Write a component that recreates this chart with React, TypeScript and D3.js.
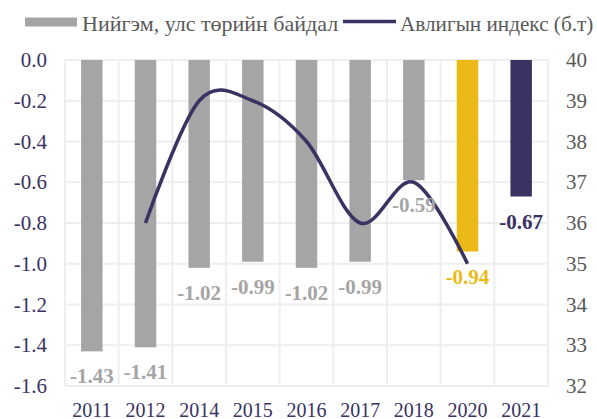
import React from "react";
import * as d3 from "d3";

const years = ["2011", "2012", "2014", "2015", "2016", "2017", "2018", "2020", "2021"];
const socialValues = [-1.43, -1.41, -1.02, -0.99, -1.02, -0.99, -0.59, -0.94, -0.67];
const cpiValues: (number | null)[] = [null, 36, 39, 39, 38, 36, 37, 35, null];
const leftTicks = [0, -0.2, -0.4, -0.6, -0.8, -1.0, -1.2, -1.4, -1.6];
const rightTicks = [40, 39, 38, 37, 36, 35, 34, 33, 32];
const legendLabels = ["Нийгэм, улс төрийн байдал", "Авлигын индекс (б.т)"];

const W = 597;
const H = 419;
const left = 65;
const right = 548;
const top = 60;
const bottom = 386;

const GRAY = "#a5a5a5";
const YELLOW = "#ebba16";
const NAVY = "#3a3262";
const FONT = "Liberation Serif, DejaVu Serif, Times New Roman, serif";

export default function App() {
  const x = d3.scaleBand<string>().domain(years).range([left, right]).padding(0);
  const yL = d3.scaleLinear().domain([-1.6, 0]).range([bottom, top]);
  const yR = d3.scaleLinear().domain([32, 40]).range([bottom, top]);
  const bw = x.bandwidth() * 0.4;

  const barColor = (i: number) => (i === 7 ? YELLOW : i === 8 ? NAVY : GRAY);
  const labelColor = (i: number) => (i === 7 ? YELLOW : i === 8 ? NAVY : GRAY);

  const pts = years
    .map((yr, i) => ({ yr, v: cpiValues[i] }))
    .filter((d) => d.v !== null) as { yr: string; v: number }[];
  const line = d3
    .line<{ yr: string; v: number }>()
    .x((d) => (x(d.yr) as number) + x.bandwidth() / 2)
    .y((d) => yR(d.v))
    .curve(d3.curveCardinal.tension(0));

  return (
    <svg width={W} height={H} style={{ position: "absolute", left: 0, top: 0, background: "#fff", fontFamily: FONT }}>
      {/* grid */}
      {leftTicks.map((t) => (
        <line key={"h" + t} x1={left} x2={right} y1={yL(t)} y2={yL(t)} stroke="#eeeeee" strokeWidth={2} />
      ))}
      {years.map((yr) => (
        <line key={"v" + yr} x1={x(yr) as number} x2={x(yr) as number} y1={top} y2={bottom} stroke="#eeeeee" strokeWidth={2} />
      ))}
      <line x1={right} x2={right} y1={top} y2={bottom} stroke="#eeeeee" strokeWidth={2} />

      {/* bars */}
      {years.map((yr, i) => {
        const cx = (x(yr) as number) + x.bandwidth() / 2;
        return (
          <rect key={"b" + yr} x={cx - bw / 2} y={yL(0)} width={bw} height={yL(socialValues[i]) - yL(0)} fill={barColor(i)} />
        );
      })}

      {/* line */}
      <path d={line(pts) as string} fill="none" stroke={NAVY} strokeWidth={3.5} />

      {/* bar labels */}
      {years.map((yr, i) => {
        const cx = (x(yr) as number) + x.bandwidth() / 2;
        return (
          <text key={"l" + yr} x={cx} y={yL(socialValues[i]) + 32} textAnchor="middle" fontFamily={FONT} fontWeight="bold" fontSize={21} fill={labelColor(i)}>
            {socialValues[i].toFixed(2)}
          </text>
        );
      })}

      {/* left axis */}
      {leftTicks.map((t) => (
        <text key={"lt" + t} x={47} y={yL(t) + 7} textAnchor="end" fontFamily={FONT} fontSize={21} fill={NAVY}>
          {t.toFixed(1)}
        </text>
      ))}
      {/* right axis */}
      {rightTicks.map((t) => (
        <text key={"rt" + t} x={566} y={yR(t) + 7} textAnchor="start" fontFamily={FONT} fontSize={21} fill="#595959">
          {t}
        </text>
      ))}
      {/* x axis */}
      {years.map((yr) => (
        <text key={"x" + yr} x={(x(yr) as number) + x.bandwidth() / 2} y={417} textAnchor="middle" fontFamily={FONT} fontSize={20} fill={NAVY}>
          {yr}
        </text>
      ))}

      {/* legend */}
      <rect x={25} y={17.5} width={52} height={9} fill={GRAY} />
      <text x={82} y={31} fontFamily={FONT} fontSize={22} fill="#595959">{legendLabels[0]}</text>
      <line x1={343} x2={396} y1={21.5} y2={21.5} stroke={NAVY} strokeWidth={3.5} />
      <text x={400} y={31} fontFamily={FONT} fontSize={21.2} fill="#595959">{legendLabels[1]}</text>
    </svg>
  );
}
